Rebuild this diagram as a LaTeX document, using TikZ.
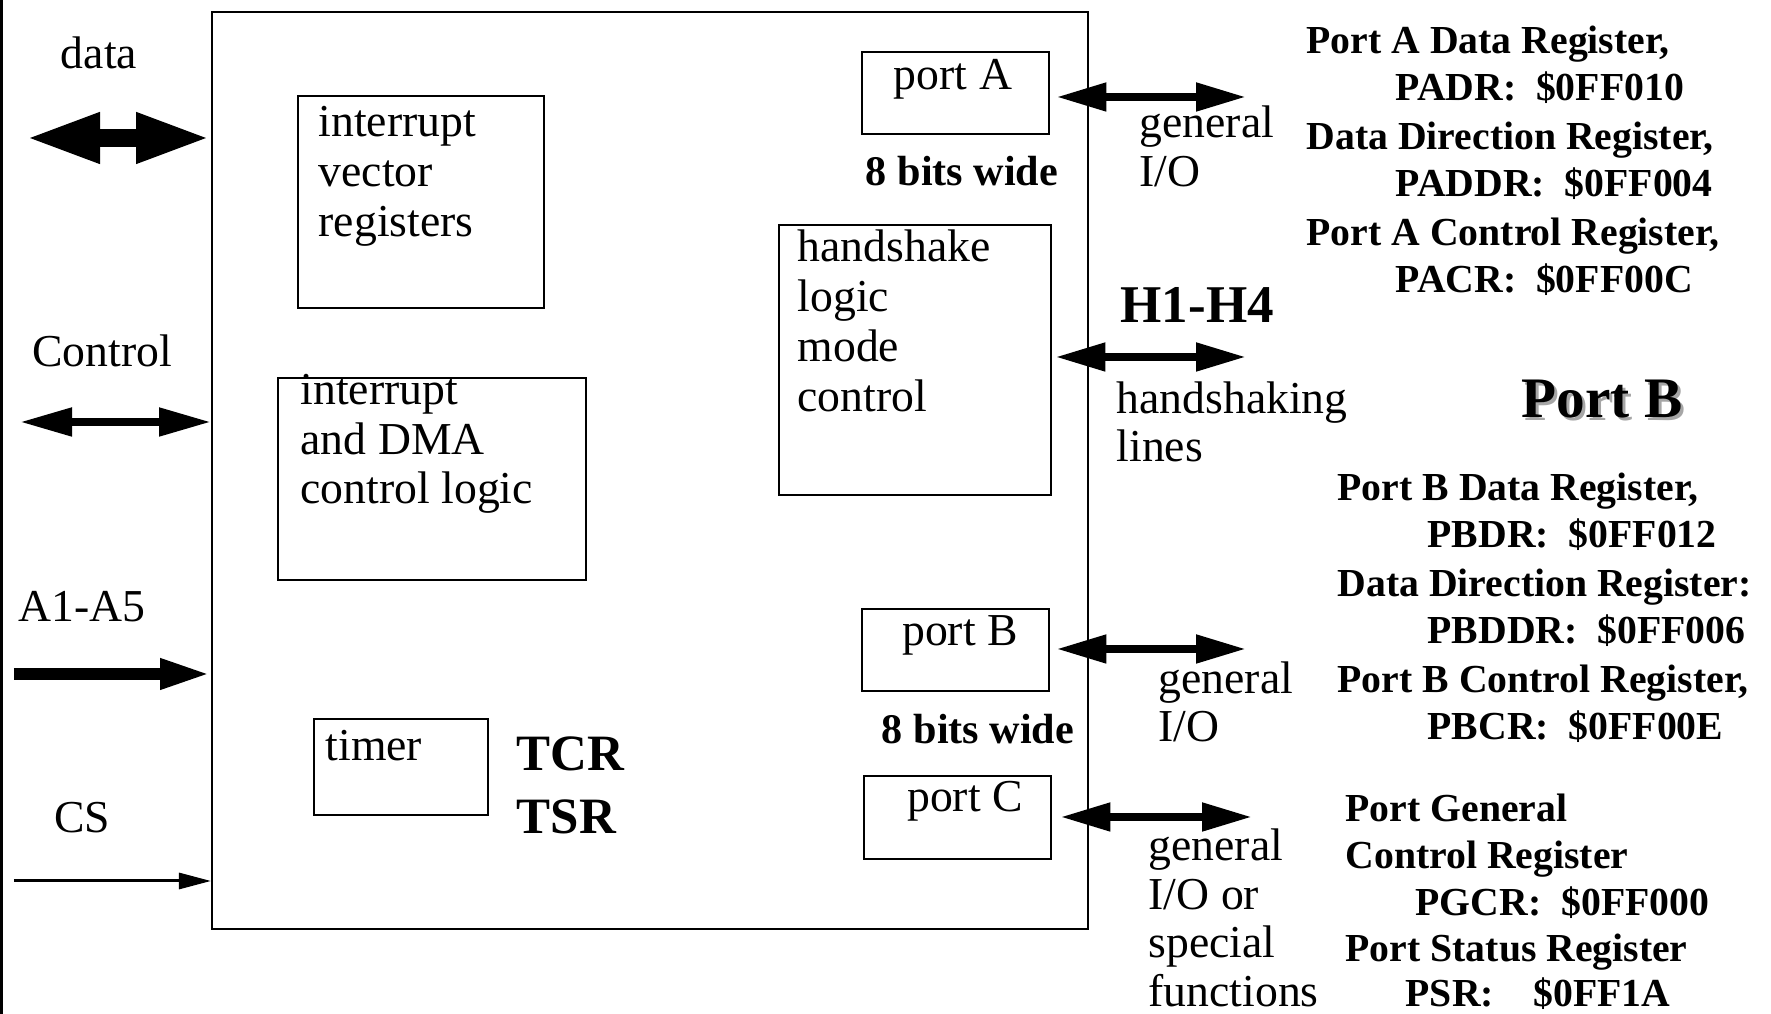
\documentclass[tikz,border=0pt]{standalone}
\usepackage{fontspec}
\setmainfont{Liberation Serif}
\usetikzlibrary{arrows.meta, positioning}
\tikzset{
	block/.style={
		rectangle,
		draw=black,
		line width=0.7pt,
		inner sep=0pt,
		anchor=north west
	},
	lbl/.style={
		inner sep=0pt,
		anchor=base west,
		font=\fontsize{13}{15}\selectfont
	},
	reglbl/.style={
		lbl,
		font=\bfseries\fontsize{11.3}{13}\selectfont
	},
	widthlbl/.style={
		lbl,
		anchor=base,
		font=\bfseries\fontsize{12}{14}\selectfont
	},
	biglbl/.style={
		lbl,
		font=\bfseries\fontsize{14.5}{17}\selectfont
	},
	titlelbl/.style={
		lbl,
		font=\bfseries\fontsize{16.3}{19}\selectfont
	},
	databus/.style={
		{Triangle[length=0.75cm, width=0.46cm]}-{Triangle[length=0.75cm, width=0.46cm]},
		line width=0.18cm
	},
	ctrlbus/.style={
		{Triangle[length=0.52cm, width=0.27cm]}-{Triangle[length=0.52cm, width=0.27cm]},
		line width=0.08cm
	},
	addrbus/.style={
		-{Triangle[length=0.51cm, width=0.28cm]},
		line width=0.12cm
	},
	csline/.style={
		-{Triangle[length=0.32cm, width=0.16cm]},
		line width=0.03cm
	},
	iobus/.style={
		{Triangle[length=0.5cm, width=0.27cm]}-{Triangle[length=0.5cm, width=0.27cm]},
		line width=0.08cm
	}
}
\begin{document}
\begin{tikzpicture}

		\fill [white] (0,0) rectangle (17.71,-10.14);
		\useasboundingbox (0,0) rectangle (17.71,-10.14);
		\draw [line width=0.03cm] (0.015,0) -- (0.015,-10.14);

		% boxes
		\node (main)  [block, minimum width=8.76cm, minimum height=9.17cm] at (2.11,-0.11) {};
		\node (ivr)   [block, minimum width=2.46cm, minimum height=2.12cm] at (2.97,-0.95) {};
		\node (idma)  [block, minimum width=3.08cm, minimum height=2.02cm] at (2.77,-3.77) {};
		\node (timer) [block, minimum width=1.74cm, minimum height=0.96cm] at (3.13,-7.18) {};
		\node (portA) [block, minimum width=1.87cm, minimum height=0.82cm] at (8.61,-0.51) {};
		\node (hs)    [block, minimum width=2.72cm, minimum height=2.70cm] at (7.78,-2.24) {};
		\node (portB) [block, minimum width=1.87cm, minimum height=0.82cm] at (8.61,-6.08) {};
		\node (portC) [block, minimum width=1.87cm, minimum height=0.83cm] at (8.63,-7.75) {};

		% box texts
		\foreach \word [count=\i] in {interrupt, vector, registers}
			\node (ivr-\i) [lbl] at (3.18,{-1.37-0.497*(\i-1)}) {\word};
		\foreach \word [count=\i] in {interrupt, and DMA, control logic}
			\node (idma-\i) [lbl] at (3.00,{-4.05-0.495*(\i-1)}) {\word};
		\foreach \word [count=\i] in {handshake, logic, mode, control}
			\node (hs-\i) [lbl] at (7.97,{-2.62-0.497*(\i-1)}) {\word};
		\node (timerlbl) [lbl] at (3.25,-7.61) {timer};
		\node (portAlbl) [lbl, anchor=base] at (9.53,-0.90) {port A};
		\node (portBlbl) [lbl, anchor=base] at (9.60,-6.46) {port B};
		\node (portClbl) [lbl, anchor=base] at (9.65,-8.12) {port C};
		\node (portAwidth) [widthlbl] at (9.62,-1.86) {8 bits wide};
		\node (portBwidth) [widthlbl] at (9.78,-7.44) {8 bits wide};
		\node (tcr) [biglbl] at (5.16,-7.71) {TCR};
		\node (tsr) [biglbl] at (5.16,-8.34) {TSR};

		% bus lines on the left
		\node (datalbl) [lbl, anchor=base] at (0.99,-0.69) {data};
		\node (ctrllbl) [lbl, anchor=base] at (1.02,-3.67) {Control};
		\node (addrlbl) [lbl, anchor=base] at (0.82,-6.22) {A1-A5};
		\node (cslbl)   [lbl, anchor=base] at (0.82,-8.33) {CS};
		\coordinate (dataL) at (0.25,-1.38);
		\coordinate (ctrlL) at (0.20,-4.22);
		\coordinate (addrL) at (0.14,-6.74);
		\coordinate (csL)   at (0.14,-8.81);
		\draw [databus] (dataL) -- (dataL -| main.west);
		\draw [ctrlbus] (ctrlL) -- (ctrlL -| main.west);
		\draw [addrbus] (addrL) -- (addrL -| main.west);
		\draw [csline]  (csL)   -- (csL -| main.west);

		% port lines on the right
		\coordinate (portAout) at (12.46,-0.97);
		\coordinate (hsout)    at (12.46,-3.57);
		\coordinate (portBout) at (12.46,-6.49);
		\coordinate (portCout) at (12.52,-8.17);
		\draw [iobus] ([xshift=0.06cm]portA.east |- portAout) -- (portAout);
		\draw [iobus] ([xshift=0.03cm]hs.east |- hsout)       -- (hsout);
		\draw [iobus] ([xshift=0.06cm]portB.east |- portBout) -- (portBout);
		\draw [iobus] ([xshift=0.08cm]portC.east |- portCout) -- (portCout);

		\node (ioA1) [lbl] at (11.39,-1.38) {general};
		\node (ioA2) [lbl] at (11.39,-1.87) {I/O};
		\node (hnames) [lbl, font=\bfseries\fontsize{15.1}{18}\selectfont] at (11.20,-3.23) {H1-H4};
		\node (hslines1) [lbl] at (11.16,-4.14) {handshaking};
		\node (hslines2) [lbl] at (11.16,-4.62) {lines};
		\node (ioB1) [lbl] at (11.58,-6.94) {general};
		\node (ioB2) [lbl] at (11.58,-7.42) {I/O};
		\foreach \word [count=\i] in {general, I/O or, special, functions}
			\node (ioC-\i) [lbl] at (11.48,{-8.61-0.484*(\i-1)}) {\word};

		% registers
		\node (padr1)  [reglbl] at (13.06,-0.54) {Port A Data Register,};
		\node (padr2)  [reglbl] at (13.95,-1.01) {PADR:~~\$0FF010};
		\node (paddr1) [reglbl] at (13.06,-1.50) {Data Direction Register,};
		\node (paddr2) [reglbl] at (13.95,-1.97) {PADDR:~~\$0FF004};
		\node (pacr1)  [reglbl] at (13.06,-2.46) {Port A Control Register,};
		\node (pacr2)  [reglbl] at (13.95,-2.93) {PACR:~~\$0FF00C};

		\node (portBshade) [titlelbl, text=black!35] at (15.24,-4.21) {Port B};
		\node (portBtitle) [titlelbl] at (15.21,-4.18) {Port B};

		\node (pbdr1)  [reglbl] at (13.37,-5.01) {Port B Data Register,};
		\node (pbdr2)  [reglbl] at (14.27,-5.48) {PBDR:~~\$0FF012};
		\node (pbddr1) [reglbl] at (13.37,-5.97) {Data Direction Register:};
		\node (pbddr2) [reglbl] at (14.27,-6.44) {PBDDR:~~\$0FF006};
		\node (pbcr1)  [reglbl] at (13.37,-6.93) {Port B Control Register,};
		\node (pbcr2)  [reglbl] at (14.27,-7.40) {PBCR:~~\$0FF00E};

		\node (pgcr1) [reglbl] at (13.45,-8.22) {Port General};
		\node (pgcr2) [reglbl] at (13.45,-8.69) {Control Register};
		\node (pgcr3) [reglbl] at (14.15,-9.16) {PGCR:~~\$0FF000};
		\node (psr1)  [reglbl] at (13.45,-9.62) {Port Status Register};
		\node (psr2)  [reglbl] at (14.05,-10.07) {PSR:~~~~\$0FF1A};

	\end{tikzpicture}
\end{document}
